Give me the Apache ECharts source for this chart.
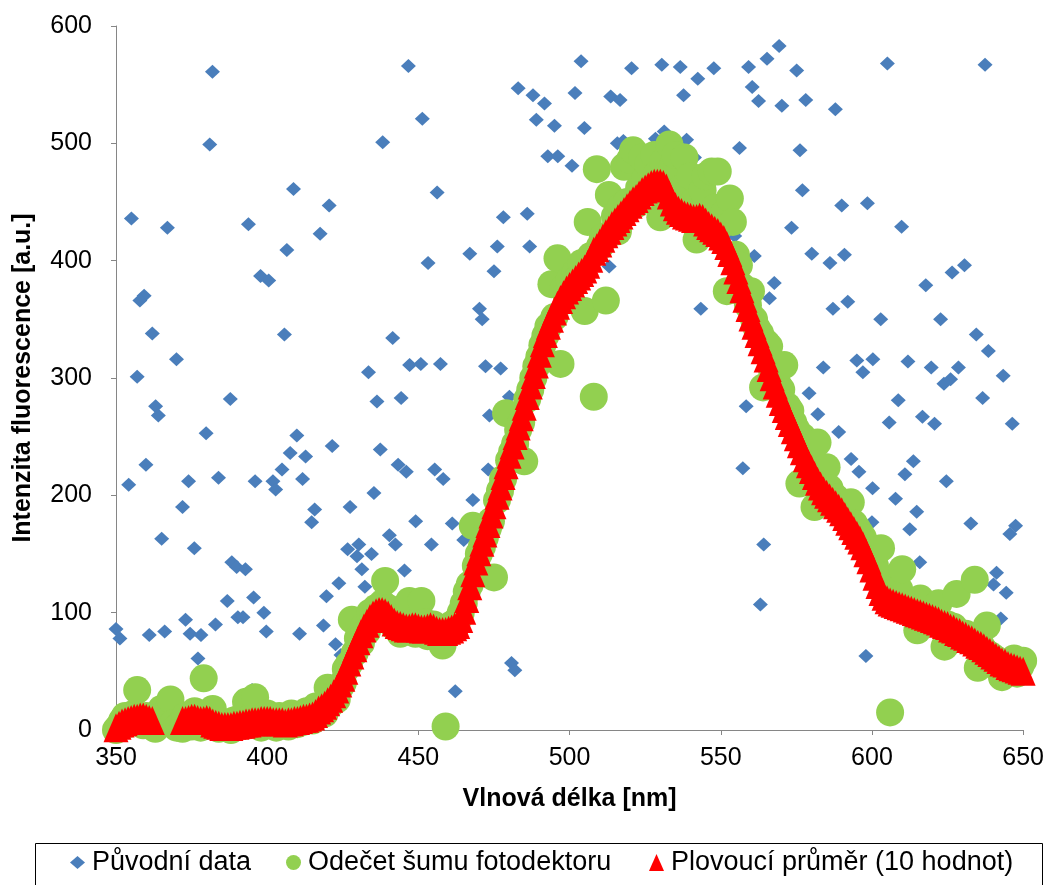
<!DOCTYPE html>
<html>
<head>
<meta charset="utf-8">
<title>Fluorescence</title>
<script src="https://cdn.jsdelivr.net/npm/echarts@6/dist/echarts.min.js"></script>
<style>
  html, body { margin: 0; padding: 0; background: #fff; }
  #chart { width: 1047px; height: 885px; }
</style>
</head>
<body>
<div id="chart"></div>
<script>
// Puvodni data: [vlnova delka, intenzita]
var rawPoints = [
  [381.9,561],[381.0,499],[355.1,436],[367.0,428],[393.8,431],[359.3,370],[357.9,366],[362.0,338],
  [370.0,316],[357.0,301],[387.8,282],[363.1,276],[364.0,268],[379.8,253],[359.9,226],[354.2,209],
  [374.0,212],[383.9,215],[396.0,212],[372.0,190],[365.1,163],[375.9,155],[388.3,143],[389.9,139],
  [392.8,137],[395.5,113],[386.8,110],[350.0,86],[351.3,78],[361.0,81],[366.1,84],[373.0,94],
  [374.5,82],[378.1,81],[382.9,90],[390.3,96],[392.0,96],[377.1,61],[395.0,34],
  [446.7,566],[438.2,501],[408.7,461],[420.5,447],[417.5,423],[406.5,409],[397.8,387],[400.5,383],
  [405.7,337],[441.5,334],[433.5,305],[447.1,311],[436.3,280],[444.3,283],[409.8,251],[407.6,236],
  [412.7,233],[421.5,242],[437.4,239],[443.3,226],[446.0,220],[401.9,212],[404.9,222],[402.8,205],
  [411.7,214],[415.7,188],[414.7,177],[427.4,190],[435.3,202],[440.4,166],[442.4,158],[426.6,154],
  [430.3,158],[429.7,148],[434.5,150],[431.3,137],[445.4,136],[432.3,122],[423.7,125],[419.6,114],
  [398.9,100],[399.7,84],[410.7,82],[418.6,89],[422.6,73],[424.4,64],
  [451.3,521],[483.0,547],[487.9,541],[491.7,534],[489.0,520],[495.0,515],[492.8,489],[496.1,489],
  [456.2,458],[478.1,437],[486.0,440],[467.0,406],[476.1,412],[486.8,412],[453.2,398],[475.0,391],
  [470.2,359],[471.1,350],[450.8,312],[457.3,312],[472.2,310],[477.2,308],[480.1,284],[473.5,268],
  [489.0,323],[455.4,222],[458.2,214],[473.1,222],[468.0,196],[449.1,178],[461.2,176],[465.0,162],
  [454.3,158],[480.8,57],[481.9,51],[462.2,33],
  [503.8,570],[520.5,564],[530.5,567],[536.6,565],[542.4,555],[547.7,564],[501.8,543],[513.6,540],
  [516.7,537],[537.7,541],[504.9,513],[515.8,500],[517.8,502],[531.3,510],[538.7,503],[528.4,504],
  [500.8,481],[541.3,488],[544.2,457],[513.1,395],[543.4,359],
  [559.2,565],[565.3,572],[569.3,583],[575.1,562],[560.4,548],[562.5,536],[570.2,532],[578.1,537],
  [587.9,529],[556.2,496],[576.2,494],[577.0,460],[590.0,447],[598.5,449],[573.4,428],[580.1,406],
  [586.1,398],[590.9,405],[561.1,404],[554.6,421],[567.7,381],[566.1,368],[587.1,359],[592.0,365],
  [583.9,309],[595.0,315],[597.0,305],[600.3,316],[579.2,287],[558.4,276],[582.1,269],[589.0,254],
  [593.1,231],[595.7,220],[557.3,223],[600.2,206],[564.2,158],[563.1,107],[598.0,63],[600.0,177],
  [605.1,568],[637.4,567],[609.8,429],[630.6,396],[626.5,390],[617.8,379],[602.9,350],[622.7,350],
  [634.5,337],[638.5,323],[611.9,314],[619.6,309],[628.6,309],[643.4,302],[623.8,295],[626.0,299],
  [608.7,281],[636.6,283],[605.7,262],[616.7,267],[620.7,261],[646.4,261],[613.7,229],[610.9,218],
  [624.6,212],[607.8,197],[614.8,186],[612.5,171],[632.7,176],[647.5,174],[645.6,167],[615.8,143],
  [641.2,134],[640.2,124],[644.4,117],[642.6,95]
];

// Odecet sumu fotodetektoru, jedna hodnota na nm od 350 do 650
var startNm = 350;
var noiseCorrected = [
  0,3,8,12,5,10,14,34,8,4,12,6,3,
  1,10,18,14,8,26,6,2,4,
  1,12,6,3,16,9,2,44,10,4,
  18,3,1,7,2,5,0,8,3,10,
  6,24,4,12,28,6,2,11,14,4,
  9,2,12,6,10,3,14,8,5,12,
  7,16,10,8,20,12,18,14,36,22,
  30,26,36,40,52,56,94,66,78,74,
  88,84,100,94,104,98,108,127,104,96,
  88,92,82,86,84,110,90,82,88,110,
  92,80,86,90,84,78,72,3,82,90,
  86,94,100,108,118,124,174,140,150,156,
  164,172,178,130,196,204,214,270,230,237,
  244,256,262,229,282,290,300,310,318,328,
  336,344,380,352,402,312,376,372,384,378,
  390,386,398,357,433,404,284,478,412,420,
  366,456,424,438,425,446,480,450,486,494,
  448,462,488,470,482,458,490,474,437,484,
  470,499,480,490,455,462,488,446,472,450,
  418,442,460,472,438,476,445,476,430,440,
  374,453,433,405,396,378,370,362,374,350,
  342,338,292,330,327,306,300,294,290,311,
  276,272,262,256,210,250,240,236,230,190,
  245,214,210,224,206,200,198,194,190,186,
  182,194,176,172,168,164,158,152,146,140,
  132,155,120,116,15,112,110,120,137,106,
  104,100,102,85,112,98,96,94,100,92,
  108,88,71,90,84,88,116,80,78,82,
  76,74,128,53,72,68,89,64,62,60,
  58,45,55,52,50,61,48,54,59
];

// Plovouci prumer (10 hodnot), null = bod mimo graf
var movingAverage = [
  2,4,6,7,8,9,10,10,11,11,10,9,8,
  null,null,null,null,null,null,null,null,null,
  8,8,9,10,10,9,8,8,9,8,
  6,5,4,3,3,3,3,4,4,5,
  5,6,6,7,7,7,8,8,8,8,
  7,7,7,7,6,7,7,8,8,9,
  10,10,11,12,14,17,19,21,24,27,
  31,35,40,45,51,58,64,70,76,82,
  87,91,95,98,100,101,101,100,98,95,
  92,90,89,88,87,87,88,88,87,86,
  86,87,88,87,85,84,84,84,85,86,
  88,90,95,102,112,123,134,144,152,160,
  168,176,184,192,200,208,217,226,235,243,
  251,259,267,276,285,294,303,312,321,330,
  338,345,351,357,362,367,371,375,378,381,
  384,387,390,393,397,402,408,411,415,419,
  423,426,430,433,436,439,442,445,448,451,
  453,456,459,461,463,465,466,466,466,465,
  462,456,450,446,443,441,439,438,437,436,
  436,437,436,433,430,428,426,424,421,418,
  413,407,400,392,384,376,368,360,352,345,
  338,331,324,317,309,301,294,287,280,274,
  268,262,256,250,244,238,232,227,222,217,
  212,208,204,201,198,195,192,189,186,182,
  178,174,170,166,162,157,151,145,138,131,
  124,118,114,111,109,108,107,106,105,104,
  103,102,101,100,99,98,97,96,95,94,
  93,91,90,89,87,86,84,83,81,80,
  78,77,75,73,72,70,68,66,64,62,
  60,58,57,55,54,53,52,51,50
];

var xTicks = { min: 350, max: 650, step: 50 };
var yTicks = { min: 0, max: 600, step: 100 };

var seriesNames = ['Původní data', 'Odečet šumu fotodektoru', 'Plovoucí průměr (10 hodnot)'];

document.addEventListener('DOMContentLoaded', function () {
  var chart = echarts.init(document.getElementById('chart'));
  var font = "'Liberation Sans', Arial, sans-serif";

  function pairs(values) {
    var out = [];
    for (var i = 0; i < values.length; i++) {
      if (values[i] !== null) out.push([startNm + i, values[i]]);
    }
    return out;
  }

  function legendFor(name, icon, left, w, h) {
    return {
      data: [{ name: name, icon: icon }],
      left: left,
      top: 849,
      padding: 0,
      itemWidth: w,
      itemHeight: h,
      selectedMode: false,
      itemStyle: { opacity: 1 },
      textStyle: { fontSize: 27, color: '#000', fontFamily: font, padding: [0, 0, 0, 2] }
    };
  }

  var option = {
    animation: false,
    textStyle: { fontFamily: font },
    grid: { left: 116, right: 16, top: 26, bottom: 155 },
    xAxis: {
      type: 'value',
      min: xTicks.min,
      max: xTicks.max,
      interval: xTicks.step,
      name: 'Vlnová délka [nm]',
      nameLocation: 'middle',
      nameGap: 57,
      nameTextStyle: { fontSize: 25, fontWeight: 'bold', color: '#000', fontFamily: font },
      axisLine: { show: true, lineStyle: { color: '#868686', width: 1 } },
      axisTick: { show: true, length: 5, lineStyle: { color: '#868686' } },
      axisLabel: { fontSize: 25, color: '#000', margin: 16, fontFamily: font },
      splitLine: { show: false }
    },
    yAxis: {
      type: 'value',
      min: yTicks.min,
      max: yTicks.max,
      interval: yTicks.step,
      name: 'Intenzita fluorescence [a.u.]',
      nameLocation: 'middle',
      nameGap: 80,
      nameTextStyle: { fontSize: 25, fontWeight: 'bold', color: '#000', fontFamily: font },
      axisLine: { show: true, lineStyle: { color: '#868686', width: 1 } },
      axisTick: { show: true, length: 5, lineStyle: { color: '#868686' } },
      axisLabel: { fontSize: 25, color: '#000', margin: 24, fontFamily: font },
      splitLine: { show: false }
    },
    legend: [
      legendFor(seriesNames[0], 'diamond', 70, 15, 13),
      legendFor(seriesNames[1], 'circle', 286, 15, 15),
      legendFor(seriesNames[2], 'triangle', 649, 15, 17)
    ],
    graphic: [
      {
        type: 'rect',
        shape: { x: 35.5, y: 843.5, width: 1007, height: 60 },
        style: { fill: 'none', stroke: '#000', lineWidth: 1 }
      }
    ],
    series: [
      {
        name: seriesNames[0],
        type: 'scatter',
        symbol: 'diamond',
        symbolSize: [15, 14],
        itemStyle: { color: '#4A7EBB', opacity: 1 },
        data: rawPoints
      },
      {
        name: seriesNames[1],
        type: 'scatter',
        symbol: 'circle',
        symbolSize: 28,
        itemStyle: { color: '#92D050', opacity: 1 },
        data: pairs(noiseCorrected)
      },
      {
        name: seriesNames[2],
        type: 'scatter',
        symbol: 'triangle',
        symbolSize: [25, 29],
        itemStyle: { color: '#FF0000', opacity: 1 },
        data: pairs(movingAverage)
      }
    ]
  };

  chart.setOption(option);
});
</script>
</body>
</html>
